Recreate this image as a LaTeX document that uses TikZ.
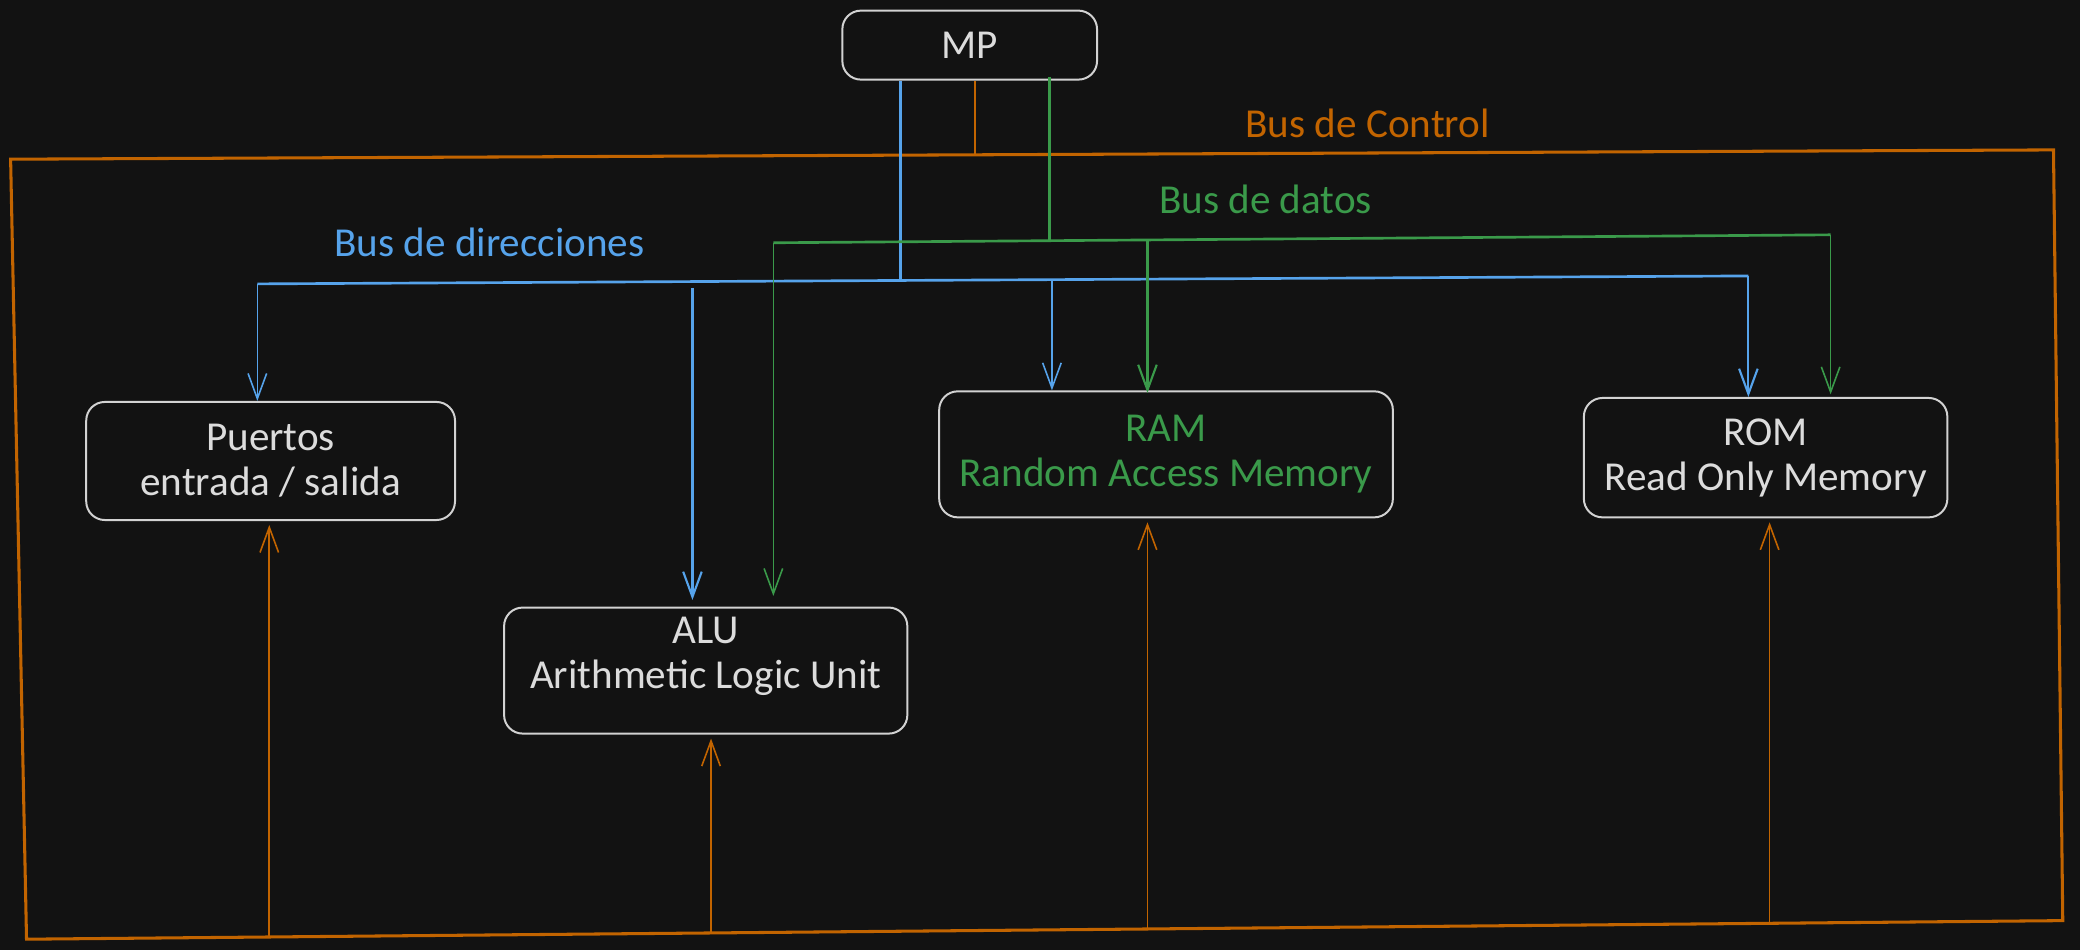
\documentclass[tikz,border=0pt]{standalone}
\usepackage{fontspec}
\setmainfont{Carlito}
\usetikzlibrary{arrows.meta}
\definecolor{bg}{HTML}{121212}
\definecolor{fg}{HTML}{DCDCDC}
\definecolor{boxc}{HTML}{D2D2D2}
\definecolor{cblue}{HTML}{56A3EB}
\definecolor{cgreen}{HTML}{3A9A4A}
\definecolor{corange}{HTML}{C26400}
\begin{document}
\begin{tikzpicture}[x=1pt,y=-1pt,
  box/.style={draw=boxc,line width=1.5pt,rounded corners=14pt,text=fg,align=center,
    font=\fontsize{31}{34}\selectfont,inner sep=0pt},
  lbl/.style={font=\fontsize{31}{34}\selectfont},
  tip/.style={-{Straight Barb[length=19pt,width=14pt]}},
  thinline/.style={line width=1.2pt},
  midline/.style={line width=1.6pt},
  busline/.style={line width=2pt},
  frameline/.style={draw=corange,line width=2.3pt,line join=miter}]
\fill[bg] (0,0) rectangle (1568,716);
\useasboundingbox (0,0) rectangle (1568,716);

% boxes
\node[box,minimum width=192pt,minimum height=52pt] (MP) at (731,34) {MP};
\node[box,minimum width=278pt,minimum height=89pt] (PU) at (204,347.5) {Puertos\\entrada / salida};
\node[box,minimum width=304pt,minimum height=95pt] (ALU) at (532,505.5) {ALU\\Arithmetic Logic Unit\\[-18pt]\strut};
\node[box,minimum width=342pt,minimum height=95pt,text=cgreen] (RAM) at (879,342.5) {RAM\\Random Access Memory};
\node[box,minimum width=274pt,minimum height=90pt] (ROM) at (1331,345) {ROM\\Read Only Memory};

% labels
\node[lbl,text=corange] (lc) at (1031,93) {Bus de Control};
\node[lbl,text=cgreen] (ld) at (954,150) {Bus de datos};
\node[lbl,text=cblue] (la) at (369,183) {Bus de direcciones};

% control bus frame
\coordinate (o1) at (8,120);
\coordinate (o2) at (1548,113);
\coordinate (o3) at (1555,694);
\coordinate (o4) at (20,708);
\draw[frameline] (o1) -- (o2) -- (o3) -- (o4) -- cycle;
\coordinate (oM) at (735,117);
\draw[corange,thinline] (MP.south -| oM) -- (oM);
\coordinate (oP) at (203,706);
\coordinate (oA) at (536,703);
\coordinate (oR) at (865,700);
\coordinate (oO) at (1334,696);
\draw[corange,thinline,tip,shorten >=3pt] (oP) -- (PU.south -| oP);
\draw[corange,thinline,tip,shorten >=3pt] (oA) -- (ALU.south -| oA);
\draw[corange,thinline,tip,shorten >=3pt] (oR) -- (RAM.south -| oR);
\draw[corange,thinline,tip,shorten >=3pt] (oO) -- (ROM.south -| oO);

% address bus
\coordinate (bM) at (679,211);
\coordinate (bL) at (194,214);
\coordinate (bR) at (1318,208);
\coordinate (bA) at (522,217);
\coordinate (bRa) at (793,212);
\draw[cblue,busline] (MP.south -| bM) -- (bM);
\draw[cblue,busline] (bL) -- (bR);
\draw[cblue,thinline,tip] (bL) -- (PU.north -| bL);
\draw[cblue,midline,tip] (bA) -- ([yshift=5pt]ALU.north -| bA);
\draw[cblue,thinline,tip] (bRa) -- (RAM.north -| bRa);
\draw[cblue,midline,tip] (bR) -- (ROM.north -| bR);

% data bus
\coordinate (gM) at (791,182);
\coordinate (gL) at (583,183);
\coordinate (gR) at (1380,177);
\coordinate (gRa) at (865,181);
\draw[cgreen,busline] ([yshift=3pt]MP.south -| gM) -- (gM);
\draw[cgreen,busline] (gL) -- (gR);
\draw[cgreen,thinline,tip] (gL) -- ([yshift=8pt]ALU.north -| gL);
\draw[cgreen,midline,tip] (gRa) -- ([yshift=-2pt]RAM.north -| gRa);
\draw[cgreen,thinline,tip] (gR) -- ([yshift=2pt]ROM.north -| gR);
\end{tikzpicture}
\end{document}
